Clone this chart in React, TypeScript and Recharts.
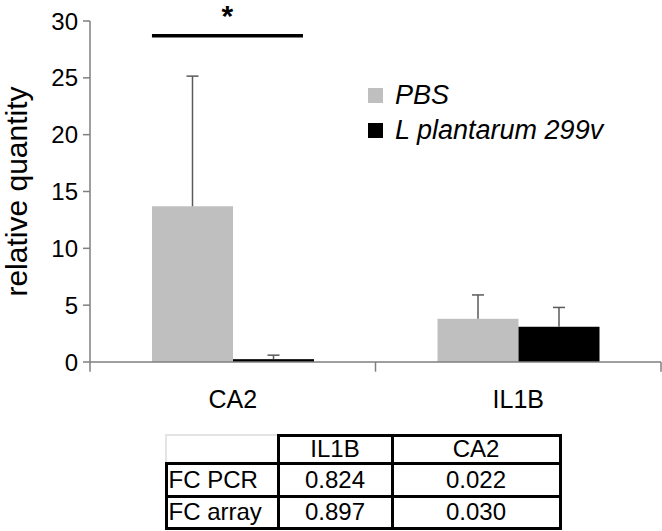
import React from 'react';
import { BarChart, Bar, XAxis, YAxis, ReferenceLine, Legend } from 'recharts';

const categories = ['CA2', 'IL1B'];
const pbsValues = [13.7, 3.8];
const pbsErrors = [11.45, 2.1];
const lpValues = [0.25, 3.1];
const lpErrors = [0.35, 1.7];
const yTicks = [0, 5, 10, 15, 20, 25, 30];
const seriesNames = ['PBS', 'L plantarum 299v'];
const significance = { y: 28.7, label: '*' };
const tableHeader = ['', 'IL1B', 'CA2'];
const tableRows = [
  ['FC PCR', '0.824', '0.022'],
  ['FC array', '0.897', '0.030'],
];

const data = categories.map((c, i) => ({
  name: c,
  pbs: pbsValues[i],
  pbsErr: pbsErrors[i],
  lp: lpValues[i],
  lpErr: lpErrors[i],
}));

const FONT = '"Liberation Sans", Arial, Helvetica, sans-serif';
const AXIS = '#7f7f7f';
const ERR = '#5a5a5a';

const makeShape = (valKey: string, errKey: string) => (props: any) => {
  const { x, y, width, height, fill, payload } = props;
  const v = payload[valKey];
  const e = payload[errKey];
  const k = v ? height / v : 0;
  const top = y - e * k;
  const cx = x + width / 2;
  return (
    <g>
      <rect x={x} y={y} width={width} height={height} fill={fill} />
      <line x1={cx} y1={y} x2={cx} y2={top} stroke={ERR} strokeWidth={1.5} />
      <line x1={cx - 6} y1={top} x2={cx + 6} y2={top} stroke={ERR} strokeWidth={1.5} />
    </g>
  );
};

const LegendContent = (props: any) => {
  const items = [...(props.payload || [])].sort(
    (a: any, b: any) => seriesNames.indexOf(a.value) - seriesNames.indexOf(b.value)
  );
  return (
    <div style={{ fontFamily: FONT }}>
      {items.map((it: any, i: number) => (
        <div key={i} style={{ display: 'flex', alignItems: 'center', height: 35 }}>
          <div style={{ width: 15, height: 15, background: it.color, marginRight: 12 }} />
          <span style={{ fontSize: 27, fontStyle: 'italic', color: '#000', whiteSpace: 'nowrap' }}>{it.value}</span>
        </div>
      ))}
    </div>
  );
};

const YLabel = (props: any) => {
  const vb = props.viewBox;
  const cx = vb.x + 27;
  const cy = vb.y + vb.height / 2;
  return (
    <text
      transform={`translate(${cx},${cy}) rotate(-90)`}
      textAnchor="middle"
      fontSize={30}
      fontFamily={FONT}
      fill="#000"
    >
      relative quantity
    </text>
  );
};

// significance bracket drawn across the first category group
const SigLabel = (props: any) => {
  const vb = props.viewBox;
  const band = vb.width / categories.length;
  const x1 = vb.x + band * 0.217;
  const x2 = vb.x + band * 0.746;
  const y = vb.y;
  return (
    <g>
      <line x1={x1} y1={y} x2={x2} y2={y} stroke="#000" strokeWidth={3.5} />
      <text
        x={(x1 + x2) / 2}
        y={y - 10}
        textAnchor="middle"
        fontSize={30}
        fontWeight="bold"
        fontFamily={FONT}
        fill="#000"
      >
        {significance.label}
      </text>
    </g>
  );
};

const colX = [166, 278, 392, 560];
const rowY = [435, 463, 496, 528];
const LW = 3;

const Table = () => {
  const cells: React.ReactNode[] = [];
  const allRows = [tableHeader, ...tableRows];
  allRows.forEach((row, r) => {
    row.forEach((txt, c) => {
      const isBlank = r === 0 && c === 0;
      cells.push(
        <div
          key={`${r}-${c}`}
          style={{
            position: 'absolute',
            left: colX[c] - LW / 2,
            top: rowY[r] - LW / 2,
            width: colX[c + 1] - colX[c] + LW,
            height: rowY[r + 1] - rowY[r] + LW,
            boxSizing: 'border-box',
            borderStyle: 'solid',
            borderWidth: isBlank ? '2px 0 0 2px' : LW,
            borderColor: isBlank ? '#e4e4e4' : '#000',
            display: 'flex',
            alignItems: 'center',
            justifyContent: c === 0 ? 'flex-start' : 'center',
            paddingLeft: c === 0 ? 1 : 0,
            fontFamily: FONT,
            fontSize: 24,
            color: '#000',
            whiteSpace: 'nowrap',
            zIndex: isBlank ? 0 : 1,
          }}
        >
          {txt}
        </div>
      );
    });
  });
  return <>{cells}</>;
};

const boundaryTicks: { cat: string; pos: 'start' | 'end' }[] = [
  { cat: categories[0], pos: 'start' },
  { cat: categories[1], pos: 'start' },
  { cat: categories[1], pos: 'end' },
];

export default function App() {
  return (
    <div style={{ position: 'absolute', left: 0, top: 0, width: 662, height: 531, background: '#fff', overflow: 'hidden' }}>
      <BarChart
        width={662}
        height={412}
        data={data}
        margin={{ top: 21, right: 1, left: 0, bottom: 0 }}
        barSize={81}
        barGap={0}
      >
        <XAxis
          dataKey="name"
          height={50}
          tickLine={false}
          tickSize={0}
          tickMargin={28}
          axisLine={{ stroke: AXIS, strokeWidth: 1.5 }}
          tick={{ fontSize: 25, fill: '#000', fontFamily: FONT }}
        />
        <YAxis
          width={90}
          domain={[0, 30]}
          ticks={yTicks}
          interval={0}
          tickSize={7}
          tickMargin={5}
          axisLine={{ stroke: AXIS, strokeWidth: 1.5 }}
          tickLine={{ stroke: AXIS, strokeWidth: 1.5 }}
          tick={{ fontSize: 24, fill: '#000', fontFamily: FONT }}
          label={{ content: YLabel }}
        />
        <Legend
          layout="vertical"
          align="center"
          verticalAlign="middle"
          content={LegendContent}
          wrapperStyle={{ left: 368, top: 78, width: 'auto', height: 'auto' }}
        />
        <Bar dataKey="pbs" name={seriesNames[0]} fill="#bfbfbf" legendType="square" isAnimationActive={false} shape={makeShape('pbs', 'pbsErr')} />
        <Bar dataKey="lp" name={seriesNames[1]} fill="#000000" legendType="square" isAnimationActive={false} shape={makeShape('lp', 'lpErr')} />
        {boundaryTicks.map((t, i) => (
          <ReferenceLine
            key={i}
            ifOverflow="visible"
            position={t.pos}
            segment={[{ x: t.cat, y: 0 }, { x: t.cat, y: -0.85 }]}
            stroke={AXIS}
            strokeWidth={1.5}
          />
        ))}
        <ReferenceLine
          y={significance.y}
          stroke="none"
          strokeOpacity={0}
          label={{ content: SigLabel }}
        />
      </BarChart>
      <Table />
    </div>
  );
}
